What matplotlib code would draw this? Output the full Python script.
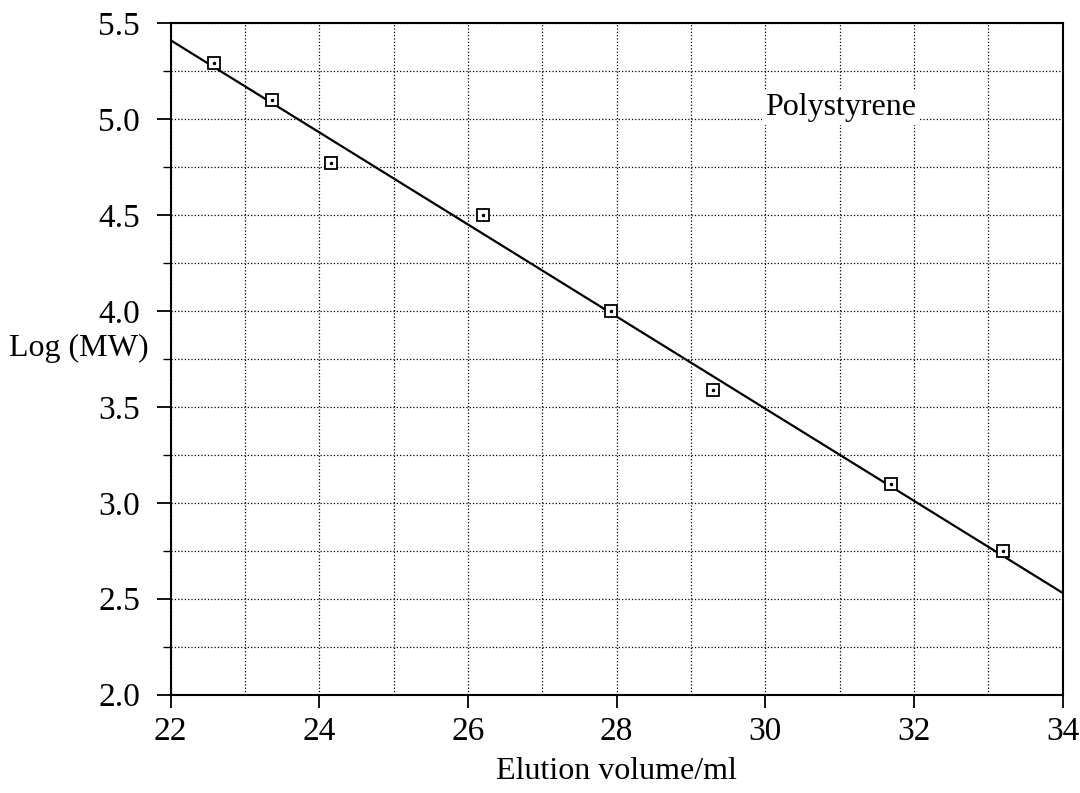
import matplotlib
matplotlib.use("Agg")
import matplotlib.pyplot as plt
from matplotlib.ticker import MultipleLocator, FormatStrFormatter

# polystyrene calibration standards
elution_ml = [22.58, 23.37, 24.16, 26.2, 27.93, 29.29, 31.69, 33.19]
log_mw = [5.29, 5.10, 4.77, 4.50, 4.00, 3.59, 3.10, 2.75]

# calibration line end points
fit_x = [22, 34]
fit_y = [5.41, 2.53]

plt.rcParams["font.family"] = ["Liberation Serif", "DejaVu Serif"]
plt.rcParams["font.size"] = 23

fig = plt.figure(figsize=(10.8, 7.93), dpi=100)
ax = fig.add_axes([0.158, 0.124, 0.826, 0.847])

ax.plot(fit_x, fit_y, "k-", linewidth=1.6, zorder=3)
ax.plot(elution_ml, log_mw, linestyle="none", marker="s", markersize=8,
        markerfacecolor="white", markeredgecolor="k", markeredgewidth=1.3, zorder=4)
ax.plot(elution_ml, log_mw, linestyle="none", marker="o", markersize=1.5,
        color="k", zorder=5)

ax.set_xlim(22, 34)
ax.set_ylim(2.0, 5.5)
ax.xaxis.set_major_locator(MultipleLocator(2))
ax.xaxis.set_minor_locator(MultipleLocator(1))
ax.yaxis.set_major_locator(MultipleLocator(0.5))
ax.yaxis.set_minor_locator(MultipleLocator(0.25))
ax.yaxis.set_major_formatter(FormatStrFormatter("%.1f"))

ax.grid(which="both", linestyle=":", color="k", linewidth=0.9)
ax.set_axisbelow(True)

ax.tick_params(axis="x", which="major", direction="out", length=9, width=1.3,
               pad=7, labelsize=24)
ax.tick_params(axis="x", which="minor", length=0)
ax.tick_params(axis="y", which="major", direction="out", length=10, width=1.3,
               pad=12, labelsize=24)
ax.tick_params(axis="y", which="minor", direction="out", length=6, width=1.0)

for s in ax.spines.values():
    s.set_linewidth(1.5)

ax.set_xlabel("Elution volume/ml", labelpad=7)
ax.set_ylabel("Log (MW)", rotation=0, ha="right", va="center")
ax.yaxis.set_label_coords(-0.025, 0.515)

ax.text(30.0, 5.02, "Polystyrene", va="baseline", ha="left", zorder=6,
        bbox=dict(facecolor="white", edgecolor="none", pad=2))

fig.savefig("out.png", dpi=100)
